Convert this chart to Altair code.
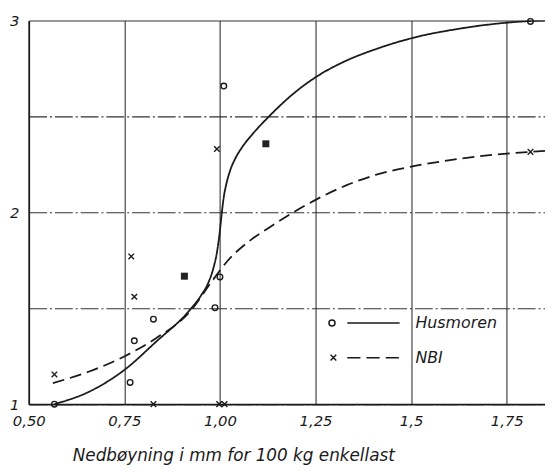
import altair as alt
import pandas as pd

# ---- data ----
series_names = ["Husmoren", "NBI"]

hus_x = [0.567, 0.765, 0.776, 0.826, 0.987, 1.000, 1.010, 1.812]
hus_y = [1.000, 1.113, 1.330, 1.443, 1.503, 1.663, 2.658, 2.995]

nbi_x = [0.567, 0.768, 0.776, 0.826, 0.998, 1.012, 0.992, 1.812]
nbi_y = [1.155, 1.770, 1.560, 1.000, 1.000, 1.000, 2.330, 2.315]

both_x = [0.907, 1.120]
both_y = [1.667, 2.357]

hus_curve_x = [0.567, 0.658, 0.751, 0.830, 0.925, 0.950, 0.970, 0.983, 0.992,
               0.999, 1.005, 1.010, 1.017, 1.027, 1.040, 1.060, 1.084, 1.131,
               1.187, 1.255, 1.330, 1.407, 1.506, 1.620, 1.760, 1.812, 1.850]
hus_curve_y = [1.000, 1.065, 1.180, 1.320, 1.500, 1.565, 1.635, 1.710, 1.790,
               1.890, 2.000, 2.080, 2.150, 2.220, 2.280, 2.345, 2.405, 2.505,
               2.610, 2.710, 2.790, 2.850, 2.910, 2.955, 2.990, 2.997, 3.000]

nbi_curve_x = [0.563, 0.658, 0.751, 0.830, 0.925, 0.976, 1.019, 1.080, 1.127,
               1.174, 1.255, 1.330, 1.407, 1.506, 1.620, 1.760, 1.812, 1.850]
nbi_curve_y = [1.110, 1.170, 1.250, 1.340, 1.490, 1.632, 1.745, 1.855, 1.918,
               1.978, 2.070, 2.140, 2.195, 2.240, 2.277, 2.308, 2.315, 2.320]

x_ticks = [0.5, 0.75, 1.0, 1.25, 1.5, 1.75]
x_tick_labels = ["0,50", "0,75", "1,00", "1,25", "1,5", "1,75"]
y_ticks = [1, 1.5, 2, 2.5, 3]
y_tick_labels = ["1", "", "2", "", "3"]

x_title = "Nedbøyning i mm for 100 kg enkellast"

# ---- tables ----
points = pd.DataFrame({
    "x": hus_x + nbi_x,
    "y": hus_y + nbi_y,
    "series": ["Husmoren"] * len(hus_x) + ["NBI"] * len(nbi_x),
})
both = pd.DataFrame({"x": both_x, "y": both_y})
curves = pd.DataFrame({
    "x": hus_curve_x + nbi_curve_x,
    "y": hus_curve_y + nbi_curve_y,
    "series": ["Husmoren"] * len(hus_curve_x) + ["NBI"] * len(nbi_curve_x),
    "order": list(range(len(hus_curve_x))) + list(range(len(nbi_curve_x))),
})


def label_expr(ticks, labels):
    expr = "''"
    for t, l in reversed(list(zip(ticks, labels))):
        expr = f"abs(datum.value - {t}) < 1e-6 ? '{l}' : ({expr})"
    return expr


FONT = "DejaVu Sans"
INK = "#1a1a1a"

x_scale = alt.Scale(domain=[0.5, 1.85], nice=False, zero=False)
y_scale = alt.Scale(domain=[1, 3], nice=False, zero=False)

x_axis = alt.Axis(
    values=x_ticks, labelExpr=label_expr(x_ticks, x_tick_labels),
    grid=True, gridColor="#333333", gridWidth=1.1,
    domain=True, domainColor=INK, domainWidth=1.7, ticks=False,
    labelFont=FONT, labelFontStyle="italic", labelFontSize=15, labelColor=INK,
    labelPadding=10, labelFlush=False,
    title=x_title, titleFont=FONT, titleFontStyle="italic", titleFontWeight="normal",
    titleFontSize=17, titleColor=INK, titleAlign="left", titleBaseline="alphabetic",
    titleAnchor="start", titleX=44, titleY=57,
)
y_axis = alt.Axis(
    values=y_ticks, labelExpr=label_expr(y_ticks, y_tick_labels),
    grid=True, gridColor="#333333", gridWidth=1.1,
    gridDash={"condition": {"test": "datum.value == 3", "value": [1, 0]}, "value": [18, 3, 2, 3]},
    domain=True, domainColor=INK, domainWidth=1.7, ticks=False,
    labelFont=FONT, labelFontStyle="italic", labelFontSize=15, labelColor=INK,
    labelPadding=10, labelFlush=False, title=None,
)

X = alt.X("x:Q", scale=x_scale, axis=x_axis)
Y = alt.Y("y:Q", scale=y_scale, axis=y_axis)

lines = alt.Chart(curves).mark_line(
    color=INK, strokeWidth=1.8, interpolate="monotone", clip=True
).encode(
    x=X, y=Y, detail="series:N", order="order:Q",
    strokeDash=alt.StrokeDash("series:N", scale=alt.Scale(domain=series_names, range=[[1, 0], [12, 6]]), legend=None),
)

marker_shapes = ["circle", "M -1 -1 L 1 1 M -1 1 L 1 -1"]
pts = alt.Chart(points).mark_point(
    filled=False, color=INK, strokeWidth=1.4, size=32, opacity=1, clip=False
).encode(
    x=alt.X("x:Q", scale=x_scale), y=alt.Y("y:Q", scale=y_scale),
    shape=alt.Shape("series:N", scale=alt.Scale(domain=series_names, range=marker_shapes), legend=None),
)

sq = alt.Chart(both).mark_square(color="#222222", size=50, opacity=1).encode(
    x=alt.X("x:Q", scale=x_scale), y=alt.Y("y:Q", scale=y_scale),
)

legend_paths = [
    "M -0.985 0 A 0.085 0.085 0 1 0 -0.815 0 A 0.085 0.085 0 1 0 -0.985 0 M -0.47 0 L 1 0",
    "M -0.94 -0.08 L -0.78 0.08 M -0.94 0.08 L -0.78 -0.08 M -0.47 0 L -0.1 0 M 0.07 0 L 0.44 0 M 0.61 0 L 0.98 0",
]
leg = alt.Chart(points).mark_point(
    filled=False, color=INK, strokeWidth=1.5, size=0
).encode(
    x=alt.X("x:Q", scale=x_scale), y=alt.Y("y:Q", scale=y_scale),
    shape=alt.Shape(
        "series:N",
        scale=alt.Scale(domain=series_names, range=legend_paths),
        legend=alt.Legend(
            title=None, orient="none", legendX=302, legendY=296,
            symbolSize=5184, symbolStrokeWidth=1.5, symbolStrokeColor=INK,
            symbolOpacity=1, clipHeight=20, rowPadding=15, padding=0,
            labelFont=FONT, labelFontStyle="italic", labelFontSize=16,
            labelColor=INK, labelOffset=15,
        ),
    ),
)

chart = alt.layer(lines, pts, sq, leg).resolve_scale(shape="independent").properties(
    width=522, height=388,
    autosize=alt.AutoSizeParams(type="none"),
    padding={"left": 21, "top": 10, "right": 0, "bottom": 63},
    background="white",
).configure_view(stroke=None)

chart.save("out.html", embed_options={"renderer": "svg", "actions": False})
